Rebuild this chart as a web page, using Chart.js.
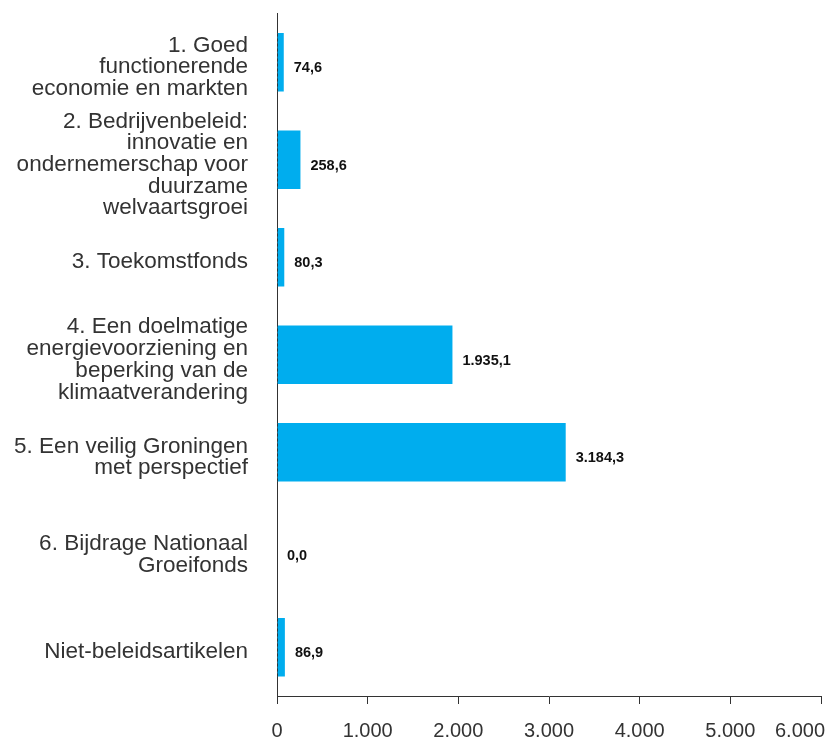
<!DOCTYPE html>
<html>
<head>
<meta charset="utf-8">
<script src="https://cdn.jsdelivr.net/npm/chart.js@4/dist/chart.umd.min.js"></script>
<style>
  html, body { margin:0; padding:0; background:#fff; }
  #wrap { width:832px; height:738px; position:relative; }
</style>
</head>
<body>
<div id="wrap"><canvas id="chart"></canvas></div>
<script>
/* ---------- Data ---------- */
const categories = [
  ['1. Goed', 'functionerende', 'economie en markten'],
  ['2. Bedrijvenbeleid:', 'innovatie en', 'ondernemerschap voor', 'duurzame', 'welvaartsgroei'],
  '3. Toekomstfonds',
  ['4. Een doelmatige', 'energievoorziening en', 'beperking van de', 'klimaatverandering'],
  ['5. Een veilig Groningen', 'met perspectief'],
  ['6. Bijdrage Nationaal', 'Groeifonds'],
  'Niet-beleidsartikelen'
];
const values = [74.6, 258.6, 80.3, 1935.1, 3184.3, 0.0, 86.9];
const xTickLabels = ['0', '1.000', '2.000', '3.000', '4.000', '5.000', '6.000'];

const BAR_COLOR = '#00adee';
const TEXT_COLOR = '#333333';
const FONT = '"Liberation Sans", Arial, sans-serif';

// Dutch number format: 1.935,1
function fmtNL(v, dec){
  const parts = v.toFixed(dec).split('.');
  const int = parts[0].replace(/\B(?=(\d{3})+(?!\d))/g, '.');
  return parts[1] ? int + ',' + parts[1] : int;
}

// value labels right of each bar
const valueLabelPlugin = {
  id: 'valueLabels',
  afterDatasetsDraw(chart){
    const ctx = chart.ctx;
    const meta = chart.getDatasetMeta(0);
    const xs = chart.scales.x;
    const x0 = xs.getPixelForValue(0);

    // axis line shows dashed through the bars
    ctx.save();
    ctx.strokeStyle = TEXT_COLOR;
    ctx.lineWidth = 1;
    ctx.setLineDash([3, 2]);
    ctx.beginPath();
    ctx.moveTo(Math.round(x0 - 0.5) + 0.5, chart.chartArea.top);
    ctx.lineTo(Math.round(x0 - 0.5) + 0.5, chart.chartArea.bottom);
    ctx.stroke();
    ctx.restore();

    ctx.save();
    ctx.font = 'bold 14.5px ' + FONT;
    ctx.fillStyle = '#111';
    ctx.textAlign = 'left';
    ctx.textBaseline = 'alphabetic';
    meta.data.forEach((bar, i) => {
      ctx.fillText(fmtNL(values[i], 1), bar.x + 10, bar.y + 10);
    });
    ctx.restore();
  },
  // x tick labels; the last one is kept inside the canvas
  afterDraw(chart){
    const ctx = chart.ctx;
    const xs = chart.scales.x;
    ctx.save();
    ctx.font = '20px ' + FONT;
    ctx.fillStyle = TEXT_COLOR;
    ctx.textAlign = 'left';
    ctx.textBaseline = 'alphabetic';
    xs.ticks.forEach((t, i) => {
      const label = xTickLabels[i];
      if (label === undefined) return;
      const w = ctx.measureText(label).width;
      let left = xs.getPixelForValue(t.value) - w / 2;
      if (left + w > chart.width - 7) left = chart.width - 7 - w;
      ctx.fillText(label, left, xs.top + 41);
    });
    ctx.restore();
  }
};

new Chart(document.getElementById('chart'), {
  type: 'bar',
  data: {
    labels: categories,
    datasets: [{
      data: values,
      backgroundColor: BAR_COLOR,
      borderWidth: 0,
      barPercentage: 0.6,
      categoryPercentage: 1
    }]
  },
  options: {
    indexAxis: 'y',
    responsive: true,
    maintainAspectRatio: false,
    animation: false,
    layout: { padding: { top: 13.5, right: 11, bottom: 0, left: 0 } },
    plugins: {
      legend: { display: false },
      tooltip: { enabled: false }
    },
    scales: {
      x: {
        min: 0,
        max: 6000,
        ticks: { stepSize: 1000, display: false },
        grid: { display: true, drawOnChartArea: false, drawTicks: true, tickLength: 8, color: TEXT_COLOR, lineWidth: 1 },
        border: { display: true, color: TEXT_COLOR, width: 1 },
        afterFit: (s) => { s.height = 42; s.paddingLeft = 0; s.paddingRight = 0; }
      },
      y: {
        grid: { display: false, drawTicks: false },
        border: { display: true, color: TEXT_COLOR, width: 1 },
        ticks: {
          autoSkip: false,
          color: TEXT_COLOR,
          padding: 29,
          labelOffset: 5,
          font: { family: FONT, size: 22.5, lineHeight: '21.7px' }
        },
        afterFit: (s) => { s.width = 277; s.paddingTop = 0; s.paddingBottom = 0; }
      }
    }
  },
  plugins: [valueLabelPlugin]
});
</script>
</body>
</html>
